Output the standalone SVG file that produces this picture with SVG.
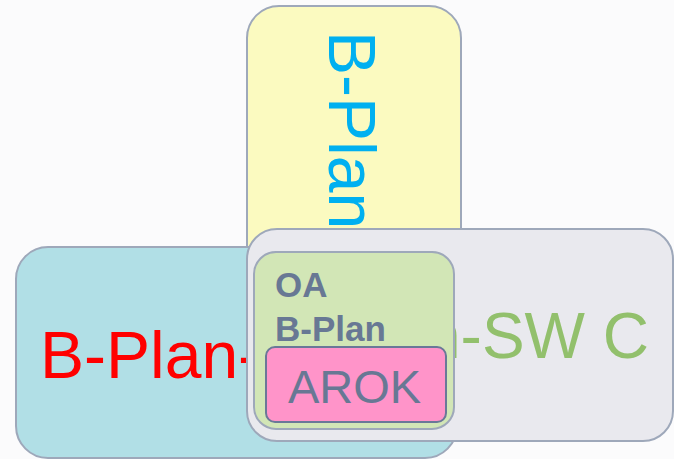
<svg xmlns="http://www.w3.org/2000/svg" width="674" height="459" viewBox="0 0 674 459">
<style>
.box{stroke:#9ea8ba;stroke-width:2}
.t{font-family:"Liberation Sans",Arial,sans-serif}
.dk{fill:#687894}
</style>
<rect x="0" y="0" width="674" height="459" fill="#fbfbfc"/>
<g id="yellow">
<rect class="box" x="247" y="6" width="214" height="446" rx="32" fill="#fbfac0"/>
<text class="t" transform="translate(329,31) rotate(90)" font-size="66" fill="#00b0f0">B-Plan-</text>
</g>
<g id="blue">
<rect class="box" x="16" y="247" width="441" height="211" rx="32" fill="#b1dfe6"/>
<text class="t" x="40" y="378" font-size="66" fill="#ff0000">B-Plan-</text>
</g>
<g id="gray">
<rect class="box" x="247" y="229" width="426" height="212" rx="30" fill="#e9e9ee"/>
<text class="t" x="425" y="358" font-size="64" fill="#92c06c">n-SW C</text>
</g>
<g id="green">
<rect class="box" x="254" y="252" width="200" height="177" rx="22" fill="#d2e6b6"/>
<text class="t dk" x="275" y="297" font-size="35" font-weight="bold">OA</text>
<text class="t dk" x="275" y="341" font-size="35" font-weight="bold">B-Plan</text>
</g>
<g id="arok">
<rect x="266" y="347" width="180" height="75" rx="9" fill="#ff94c9" stroke="#6a7898" stroke-width="2"/>
<text class="t dk" x="288" y="403" font-size="47">AROK</text>
</g>
<g id="connectors"/>
</svg>
